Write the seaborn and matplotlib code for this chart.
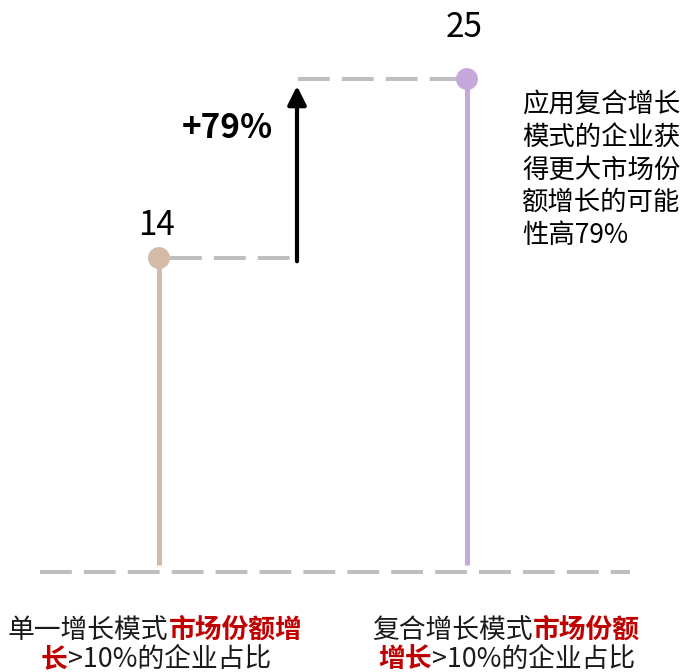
import matplotlib
matplotlib.use('Agg')
import matplotlib.pyplot as plt
import seaborn as sns
import pandas as pd
from matplotlib.offsetbox import TextArea, HPacker, AnnotationBbox

# ---- data ----
categories = ['单一增长模式', '复合增长模式']
values = [14, 25]
colors = ['#D3BBA7', '#C6A9DA']
value_labels = ['14', '25']
growth_label = '+79%'
note = '应用复合增长\n模式的企业获\n得更大市场份\n额增长的可能\n性高79%'
label_parts = [
    [[('单一增长模式', False), ('市场份额增', True)],
     [('长', True), ('>10%的企业占比', False)]],
    [[('复合增长模式', False), ('市场份额', True)],
     [('增长', True), ('>10%的企业占比', False)]],
]

sns.set_theme(style='white')
plt.rcParams['font.family'] = ['Noto Sans CJK SC', 'DejaVu Sans']

W, H = 687, 672
fig = plt.figure(figsize=(W / 100, H / 100), dpi=100)
ax = fig.add_axes([0, 0, 1, 1])

# pixel <-> data mapping for layout
x0px, xstep = 159, 308
y0px, ystep = 485.8, 16.27


def px_x(p):
    return (p - x0px) / xstep


def px_y(p):
    return (y0px - p) / ystep


df = pd.DataFrame({'cat': categories, 'x': [0, 1], 'v': values})

gray = '#BFBFBF'
dash_lw = 2.9
dash = (0, (7.9, 3.0))

# baseline
ax.plot([px_x(40), px_x(630)], [px_y(572), px_y(572)], color=gray, lw=dash_lw,
        linestyle=dash, zorder=1)

# stems
ax.vlines(df['x'], px_y(565), df['v'], colors=colors, lw=3.6, zorder=2)

# arrow position between the two categories
xa = px_x(297)

# connectors
ax.plot([px_x(170), xa - 0.02], [values[0], values[0]], color=gray, lw=dash_lw,
        linestyle=dash, zorder=1)
ax.plot([xa + 0.003, 1], [values[1], values[1]], color=gray, lw=dash_lw,
        linestyle=dash, zorder=1)

# points
sns.scatterplot(data=df, x='x', y='v', hue='cat', palette=colors, s=250,
                edgecolor='none', legend=False, ax=ax, zorder=5)

# arrow
ax.annotate('', xy=(xa, px_y(86)), xytext=(xa, values[0] - 0.2),
            arrowprops=dict(arrowstyle='-|>', lw=3, color='black',
                            mutation_scale=28, shrinkA=0, shrinkB=0))

# value labels
label_offsets = [23.5, 37]
for x, v, lbl, off in zip(df['x'], df['v'], value_labels, label_offsets):
    ax.annotate(lbl, (x, v), xytext=(-2, off), textcoords='offset points',
                ha='center', va='center', fontsize=24, color='black')

ax.text(px_x(227), px_y(129), growth_label, ha='center', va='center',
        fontsize=24, fontweight='bold', color='black')

ax.text(px_x(522), px_y(91), note, ha='left', va='top', fontsize=19,
        linespacing=1.27, color='black')

# category labels with mixed colours
label_centers = [(155, 156), (506, 507)]
line_y = [630, 659]
for parts, (cx1, cx2) in zip(label_parts, label_centers):
    for line, cx, ly in zip(parts, (cx1, cx2), line_y):
        children = []
        for txt, red in line:
            props = dict(fontsize=19.3, color='#C00000' if red else '#1A1A1A',
                         fontweight='bold' if red else 'normal',
                         family=['Noto Sans CJK SC', 'DejaVu Sans'])
            children.append(TextArea(txt, textprops=props))
        box = HPacker(children=children, align='baseline', pad=0, sep=0)
        ab = AnnotationBbox(box, (cx / W, 1 - ly / H), xycoords='axes fraction',
                            box_alignment=(0.5, 0.5), frameon=False, pad=0)
        ax.add_artist(ab)

ax.set_xlim(-x0px / xstep, (W - x0px) / xstep)
ax.set_ylim((y0px - H) / ystep, y0px / ystep)
ax.set_axis_off()

fig.savefig('out.png', dpi=100)
